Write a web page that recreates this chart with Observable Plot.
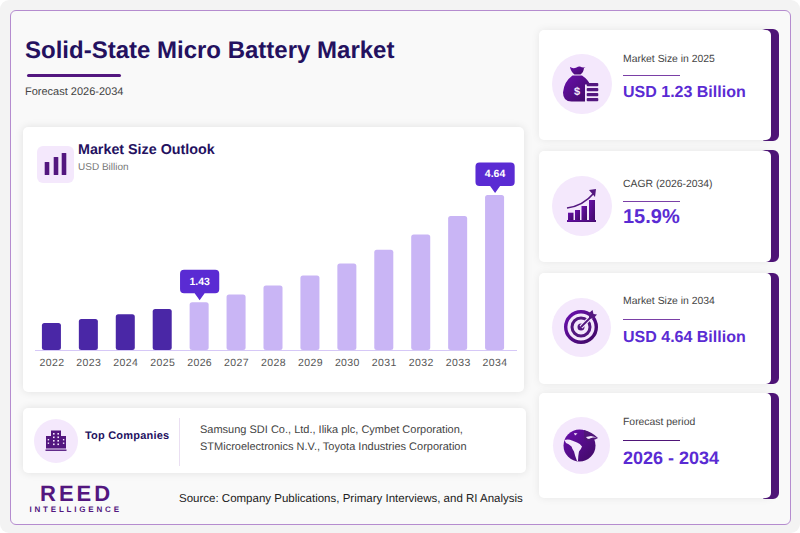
<!DOCTYPE html>
<html><head><meta charset="utf-8">
<script src="https://cdn.jsdelivr.net/npm/d3@7"></script>
<script src="https://cdn.jsdelivr.net/npm/@observablehq/plot@0.6"></script>
<style>
html,body{margin:0;padding:0;width:800px;height:533px;overflow:hidden;background:#fff;font-family:"Liberation Sans",Arial,sans-serif;text-rendering:geometricPrecision}
.a{position:absolute}
.outer{left:0;top:0;width:800px;height:533px;border-radius:9px;background:#f3f3f3}
.frame{left:10px;top:10px;width:779px;height:513px;border:1px solid #b58ccf;border-radius:6px;background:#f9f9f9;box-sizing:content-box}
.panel{background:#fff;border-radius:5px;box-shadow:0 0 9px rgba(0,0,0,.10)}
.tab{background:#4f1578;border-radius:6px;left:760px;width:19px}
.kcard{background:#fff;border-radius:5px;left:539px;width:232px;box-shadow:0 0 9px rgba(0,0,0,.08)}
.circ{border-radius:50%;background:#f4e8fc}
.lab{left:623px;font-size:10.4px;color:#444;white-space:nowrap}
.rule{left:623px;width:57px;height:1px;background:#7a3fa6}
.val{left:623px;font-size:16px;font-weight:700;color:#5a2bd3;white-space:nowrap}
svg.ic{position:absolute;overflow:visible}
</style></head><body>
<div class="a outer"></div>
<div class="a frame"></div>
<div class="a" id="title" style="left:25px;top:37px;font-size:24px;line-height:28px;font-weight:700;color:#24115f;white-space:nowrap">Solid-State Micro Battery Market</div>
<div class="a" style="left:27px;top:74px;width:94px;height:3px;border-radius:2px;background:#53177f"></div>
<div class="a" style="left:25px;top:86px;font-size:11px;color:#444;white-space:nowrap">Forecast 2026-2034</div>

<div class="a panel" style="left:23px;top:127px;width:501px;height:265px"></div>
<div class="a" style="left:37px;top:146px;width:37px;height:37px;border-radius:6px;background:#f4e8fc"></div>
<svg class="ic" style="left:37px;top:146px" width="37" height="37" viewBox="0 0 37 37"><g fill="#53177f"><rect x="7.700" y="16" width="4.600" height="13" rx=".6"/><rect x="16.700" y="11" width="4.600" height="18" rx=".6"/><rect x="24.700" y="7" width="4.600" height="22" rx=".6"/></g></svg>
<div class="a" style="left:78px;top:142px;font-size:14.300px;font-weight:700;color:#24115f;white-space:nowrap">Market Size Outlook</div>
<div class="a" style="left:78px;top:162px;font-size:10px;color:#777;white-space:nowrap">USD Billion</div>
<div class="a" id="chart" style="left:23px;top:150px"></div>

<div class="a panel" style="left:23px;top:408px;width:503px;height:65px"></div>
<div class="a circ" style="left:34px;top:419px;width:44px;height:44px"></div>
<svg class="ic" style="left:45px;top:430px" width="22" height="22" viewBox="0 0 22 22"><g fill="#53177f"><rect x="6" y="0.500" width="10" height="18"/><rect x="1" y="6" width="5" height="12.500"/><rect x="16" y="6" width="5" height="12.500"/><rect x="0.500" y="19.500" width="21" height="1.400"/></g><g fill="#f4e8fc"><rect x="8" y="3" width="1.600" height="1.600"/><rect x="12.400" y="3" width="1.600" height="1.600"/><rect x="8" y="6.500" width="1.600" height="1.600"/><rect x="12.400" y="6.500" width="1.600" height="1.600"/><rect x="8" y="10" width="1.600" height="1.600"/><rect x="12.400" y="10" width="1.600" height="1.600"/><rect x="8" y="13.500" width="1.600" height="1.600"/><rect x="12.400" y="13.500" width="1.600" height="1.600"/><rect x="2.700" y="9" width="1.400" height="1.400"/><rect x="2.700" y="12.500" width="1.400" height="1.400"/><rect x="17.900" y="9" width="1.400" height="1.400"/><rect x="17.900" y="12.500" width="1.400" height="1.400"/></g></svg>
<div class="a" style="left:85px;top:430px;font-size:11px;font-weight:700;color:#24115f;white-space:nowrap;letter-spacing:.2px">Top Companies</div>
<div class="a" style="left:179px;top:418px;width:1px;height:48px;background:#eadff2"></div>
<div class="a" style="left:200px;top:422px;font-size:11px;line-height:17px;color:#444;white-space:nowrap">Samsung SDI Co., Ltd., Ilika plc, Cymbet Corporation,<br>STMicroelectronics N.V., Toyota Industries Corporation</div>

<div class="a" style="left:40px;top:482px;font-size:22px;line-height:24px;font-weight:700;color:#53177f;letter-spacing:3px;white-space:nowrap">REED</div>
<div class="a" style="left:29.500px;top:505px;font-size:8px;line-height:10px;font-weight:700;color:#53177f;letter-spacing:2.800px;white-space:nowrap">INTELLIGENCE</div>
<div class="a" style="left:179px;top:493px;font-size:11.500px;color:#222;white-space:nowrap">Source: Company Publications, Primary Interviews, and RI Analysis</div>

<div class="a tab" style="top:29px;height:112px"></div><div class="a kcard" style="top:30px;height:110px"></div>
<div class="a tab" style="top:150px;height:112px"></div><div class="a kcard" style="top:151px;height:111px"></div>
<div class="a tab" style="top:273px;height:111px"></div><div class="a kcard" style="top:273px;height:111px"></div>
<div class="a tab" style="top:393px;height:106px"></div><div class="a kcard" style="top:393px;height:105px"></div>

<div class="a circ" style="left:552px;top:54px;width:60px;height:60px"></div>
<div class="a circ" style="left:552px;top:176px;width:60px;height:60px"></div>
<div class="a circ" style="left:552px;top:298px;width:59px;height:59px"></div>
<div class="a circ" style="left:553px;top:417px;width:57px;height:57px"></div>

<svg class="ic" style="left:0;top:0" width="800" height="533" viewBox="0 0 800 533">
<defs><linearGradient id="g" x1="0" y1="0" x2="1" y2="1"><stop offset="0" stop-color="#6a0fae"/><stop offset="1" stop-color="#3f0a63"/></linearGradient></defs>
<!-- money bag -->
<path fill="url(#g)" d="M570 67q3 2 6.500 .5q2-1.500 3.500-1q3 1.500 5.500 .5l-1.500 1q-.5 4.500-3.500 6.500h-6q-3-2-4.500-7z"/>
<path fill="url(#g)" d="M572.500 75.500h9.500q6 4 8 9h-5v17h-13.500q-8.500 0-8.500-9q1-11 9.500-17z"/>
<g fill="#53177f"><rect x="586.700" y="83" width="11.600" height="3.200" rx="1"/><rect x="586.700" y="88" width="11.600" height="3.200" rx="1"/><rect x="586.700" y="93" width="11.600" height="3.200" rx="1"/><rect x="586.700" y="98" width="11.600" height="3.200" rx="1"/></g>
<text x="577" y="94.500" font-size="11" font-weight="700" fill="#f4e8fc" text-anchor="middle" font-family="Liberation Sans">$</text>
<!-- growth -->
<g fill="url(#g)"><rect x="568" y="212.700" width="5.500" height="8"/><rect x="575" y="210" width="5" height="11"/><rect x="581.500" y="206" width="5.500" height="15"/><rect x="589" y="200" width="6" height="21"/><rect x="567" y="220" width="29" height="2"/></g>
<path d="M567 208q16-2 27-15" fill="none" stroke="#53177f" stroke-width="1.600"/><path d="M589 190l7-1l-1 8z" fill="#53177f"/>
<!-- target -->
<circle cx="581" cy="327" r="15.300" fill="none" stroke="url(#g)" stroke-width="3.400"/>
<circle cx="581" cy="327" r="9" fill="none" stroke="#53177f" stroke-width="3"/>
<circle cx="581" cy="327" r="3.500" fill="#53177f"/>
<path d="M581 327L592 316" stroke="#f4e8fc" stroke-width="4"/><path d="M581 327L593 315" stroke="#53177f" stroke-width="1.800"/>
<path d="M589 313l3.500-3l1 4l3.500.5l-3.500 4h-4.500z" fill="#53177f"/>
<!-- globe -->
<circle cx="579.500" cy="445.500" r="16" fill="url(#g)"/>
<path fill="#4f1578" d="M584 430q8 2 14 8l-3 1.500q-4 0-6 2l-5-2z"/>
<path fill="#f4e8fc" d="M564.500 440q4-1 7.500 .5l5 2q3 1 5 4q-1 3-3 5q-1 5-1 9.500h-1q-2-5-3-9.500q-2-3-2.500-5q-3-3-5.500-3.500zM586 437l5-1l6 1.500h-4q-3 .5-4 1.500q-2 0-3-2zM574 433l3.500.5l-2.500 2z"/>
</svg>

<div class="a lab" style="top:54px">Market Size in 2025</div><div class="a rule" style="top:75px"></div><div class="a val" style="top:84px">USD 1.23 Billion</div>
<div class="a lab" style="top:179px">CAGR (2026-2034)</div><div class="a rule" style="top:201px"></div><div class="a val" style="top:206px;font-size:20px">15.9%</div>
<div class="a lab" style="top:296px">Market Size in 2034</div><div class="a rule" style="top:319px"></div><div class="a val" style="top:329px">USD 4.64 Billion</div>
<div class="a lab" style="top:417px">Forecast period</div><div class="a rule" style="top:440px;background:#4f1578"></div><div class="a val" style="top:448px;font-size:18px">2026 - 2034</div>

<script>
const years = ["2022","2023","2024","2025","2026","2027","2028","2029","2030","2031","2032","2033","2034"];
const marketSize = [0.81,0.93,1.07,1.23,1.43,1.66,1.93,2.23,2.59,3.00,3.46,4.01,4.64];
const calloutYears = ["2026","2034"];
const historicColor = "#4a27a6", forecastColor = "#c9b5f5", calloutColor = "#5a2bd3";
const rows = years.map((year,i)=>({year,value:marketSize[i],kind:+year<=2025?"h":"f"}));
const callouts = rows.filter(d=>calloutYears.includes(d.year));
const calloutShape = {draw(c){
  const w=19.6,r=4,top=-33,bot=-9.5;
  c.moveTo(-w+r,top);c.lineTo(w-r,top);c.arcTo(w,top,w,top+r,r);c.lineTo(w,bot-r);c.arcTo(w,bot,w-r,bot,r);
  c.lineTo(5,bot);c.lineTo(0,-2.5);c.lineTo(-5,bot);c.lineTo(-w+r,bot);c.arcTo(-w,bot,-w,bot-r,r);c.lineTo(-w,top+r);c.arcTo(-w,top,-w+r,top,r);c.closePath();
}};
const chart = Plot.plot({
  width:501,height:225,marginLeft:1,marginRight:2,marginTop:10,marginBottom:25,
  style:{background:"transparent",fontFamily:"Liberation Sans, Arial, sans-serif",overflow:"visible"},
  x:{domain:years,padding:.485,round:false,label:null,tickSize:0,tickPadding:8},
  y:{domain:[0,5.69],axis:null},
  color:{domain:["h","f"],range:[historicColor,forecastColor]},
  marks:[
    Plot.barY(rows,{x:"year",y:"value",fill:"kind",rx:2.5}),
    Plot.ruleY([0],{stroke:"#d6c8f7",strokeWidth:1,insetLeft:11,insetRight:5}),
    Plot.dot(callouts,{x:"year",y:"value",symbol:calloutShape,r:5,fill:calloutColor,stroke:"none"}),
    Plot.text(callouts,{x:"year",y:"value",text:d=>d.value.toFixed(2),dy:-21.5,fill:"#fff",fontSize:10.5,fontWeight:700,style:{letterSpacing:".4px"}})
  ]
});
chart.querySelectorAll('[aria-label="x-axis tick label"] text').forEach(t=>{t.style.fontSize="10.5px";t.style.letterSpacing=".4px";t.style.fill="#555"});
document.getElementById("chart").append(chart);
</script>
</body></html>
